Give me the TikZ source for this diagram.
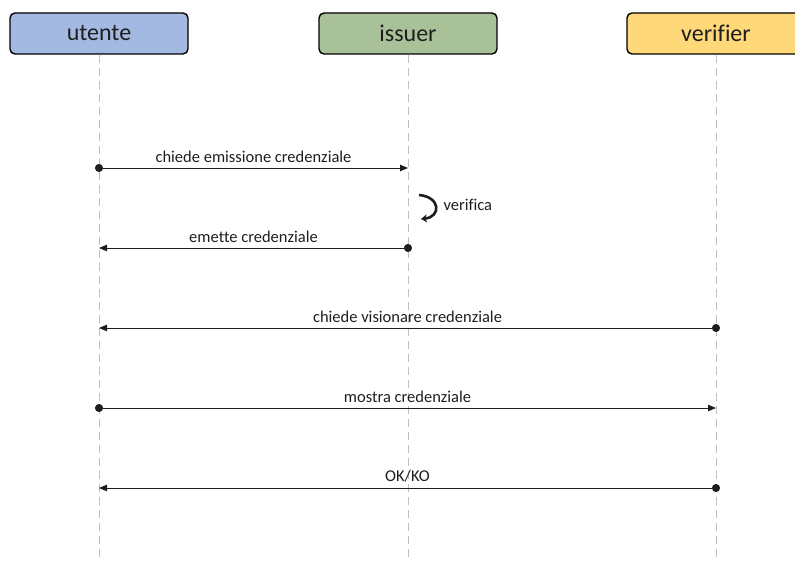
\documentclass[tikz,border=0pt]{standalone}
\usepackage{fontspec}
\setmainfont[Ligatures=NoCommon]{Carlito}
\definecolor{userblue}{RGB}{163,185,225}
\definecolor{issgreen}{RGB}{169,193,153}
\definecolor{veryellow}{RGB}{255,217,121}
\definecolor{ink}{RGB}{30,30,30}
\definecolor{lifegray}{RGB}{190,190,190}
\usetikzlibrary{arrows.meta,positioning,calc}
\tikzset{
  actor/.style={draw=black, line width=1.4pt, rounded corners=5pt, minimum width=178pt,
              minimum height=41pt, inner sep=0pt, text=ink,
              font=\fontsize{24}{26}\selectfont},
  lifeline/.style={lifegray, line width=0.9pt, dash pattern=on 8pt off 5pt},
  msg/.style={ink, line width=0.9pt, shorten <=-4pt,
              {Circle[length=8pt]}-{Triangle[length=8pt,width=6.5pt]}},
  msglabel/.style={font=\fontsize{16.5}{18}\selectfont, text=ink, inner sep=0pt, above=5pt},
}
\begin{document}
\begin{tikzpicture}[x=1pt,y=-1pt]
    \useasboundingbox (0,0) rectangle (795,561);
    \clip (0,0) rectangle (795,561);
    % --- actors ---
    \node[actor, fill=userblue]  (utente)   at (99,33.5)  {utente};
    \node[actor, fill=issgreen]  (issuer)   at (408,33.5) {issuer};
    \node[actor, fill=veryellow] (verifier) at (716,33.5) {verifier};
    % --- lifelines ---
    \coordinate (uend) at (99,557);
    \coordinate (iend) at (408,557);
    \coordinate (vend) at (716,557);
    \draw[lifeline] (utente.south) -- (uend);
    \draw[lifeline] (issuer.south) -- (iend);
    \draw[lifeline] (verifier.south) -- (vend);
    % --- points on the lifelines ---
    \coordinate (u1) at (99,168);  \coordinate (i1) at (408,168);
    \coordinate (u2) at (99,248);  \coordinate (i2) at (408,248);
    \coordinate (u3) at (99,328);  \coordinate (v3) at (716,328);
    \coordinate (u4) at (99,408);  \coordinate (v4) at (716,408);
    \coordinate (u5) at (99,488);  \coordinate (v5) at (716,488);
    % --- messages ---
    \draw[msg] (u1) -- node[msglabel] {chiede emissione credenziale} (i1);
    \draw[ink, line width=2.6pt, -{Stealth[length=6pt,width=8pt]}]
      (419,195) .. controls (441,197) and (441,217) .. (421,219);
    \node[font=\fontsize{16.5}{18}\selectfont, text=ink, anchor=west] (verifica) at (440,205) {verifica};
    \draw[msg] (i2) -- node[msglabel] {emette credenziale} (u2);
    \draw[msg] (v3) -- node[msglabel] {chiede visionare credenziale} (u3);
    \draw[msg] (u4) -- node[msglabel] {mostra credenziale} (v4);
    \draw[msg] (v5) -- node[msglabel] {OK/KO} (u5);
\end{tikzpicture}
\end{document}
